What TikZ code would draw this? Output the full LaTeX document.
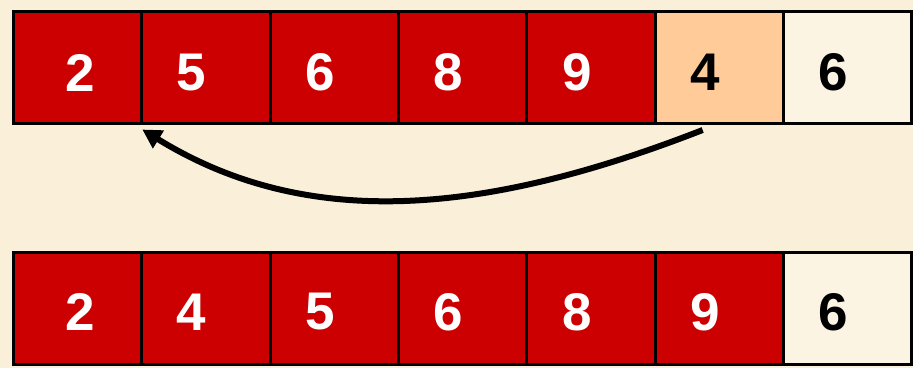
\documentclass[tikz,border=0pt]{standalone}
\usepackage{fontspec}
\setmainfont{Liberation Sans}
\usetikzlibrary{arrows.meta}
\definecolor{bg}{HTML}{FAF0DA}
\definecolor{cellred}{HTML}{CC0000}
\definecolor{peach}{HTML}{FFCC99}
\definecolor{pale}{HTML}{FCF4E3}
\tikzset{
  cell/.style={draw=black, line width=3pt, minimum width=128.3pt, minimum height=112pt,
    inner sep=0pt, outer sep=0pt, anchor=north west},
  redcell/.style={cell, fill=cellred},
  peachcell/.style={cell, fill=peach},
  palecell/.style={cell, fill=pale},
  digit/.style={font=\bfseries\fontsize{53}{53}\selectfont, inner sep=0pt},
  wdigit/.style={digit, text=white},
  kdigit/.style={digit, text=black},
  movearrow/.style={line width=6pt, -{Triangle[length=19pt,width=20pt]}}
}
\begin{document}
\begin{tikzpicture}[x=1pt,y=-1pt]
\fill[bg] (0,0) rectangle (913,368);
\useasboundingbox (0,0) rectangle (913,368);
% top row
\node[redcell] (t1) at (13.5,11.5) {};
\node[redcell] (t2) at (141.8,11.5) {};
\node[redcell] (t3) at (270.1,11.5) {};
\node[redcell] (t4) at (398.4,11.5) {};
\node[redcell] (t5) at (526.7,11.5) {};
\node[peachcell] (t6) at (655,11.5) {};
\node[palecell] (t7) at (783.3,11.5) {};
\node[wdigit] (tl1) at ([xshift=3pt,yshift=-5pt]t1.center) {2};
\node[wdigit] (tl2) at ([xshift=-15pt,yshift=-5pt]t2.center) {5};
\node[wdigit] (tl3) at ([xshift=-14pt,yshift=-5pt]t3.center) {6};
\node[wdigit] (tl4) at ([xshift=-14pt,yshift=-5pt]t4.center) {8};
\node[wdigit] (tl5) at ([xshift=-14pt,yshift=-5pt]t5.center) {9};
\node[kdigit] (tl6) at ([xshift=-14pt,yshift=-5pt]t6.center) {4};
\node[kdigit] (tl7) at ([xshift=-14pt,yshift=-5pt]t7.center) {6};
% bottom row
\node[redcell] (b1) at (13.5,252) {};
\node[redcell] (b2) at (141.8,252) {};
\node[redcell] (b3) at (270.1,252) {};
\node[redcell] (b4) at (398.4,252) {};
\node[redcell] (b5) at (526.7,252) {};
\node[redcell] (b6) at (655,252) {};
\node[palecell] (b7) at (783.3,252) {};
\node[wdigit] (bl1) at ([xshift=3pt,yshift=-4pt]b1.center) {2};
\node[wdigit] (bl2) at ([xshift=-15pt,yshift=-4pt]b2.center) {4};
\node[wdigit] (bl3) at ([xshift=-14pt,yshift=-4pt]b3.center) {5};
\node[wdigit] (bl4) at ([xshift=-14pt,yshift=-4pt]b4.center) {6};
\node[wdigit] (bl5) at ([xshift=-14pt,yshift=-4pt]b5.center) {8};
\node[wdigit] (bl6) at ([xshift=-14pt,yshift=-4pt]b6.center) {9};
\node[kdigit] (bl7) at ([xshift=-14pt,yshift=-4pt]b7.center) {6};
% arrow
\coordinate (s) at ([xshift=-16.5pt,yshift=-6.5pt]t6.south);
\coordinate (e) at ([xshift=0.5pt,yshift=-6pt]t1.south east);
\draw[movearrow] (s) .. controls (490,213) and (310,233) .. (e);
\end{tikzpicture}
\end{document}
